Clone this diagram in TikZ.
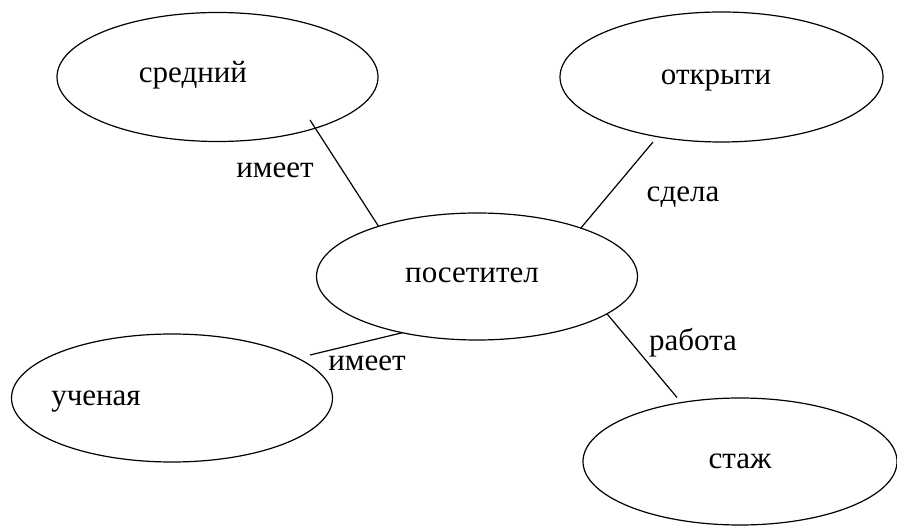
\documentclass[tikz,border=0pt]{standalone}
\usepackage{fontspec}
\setmainfont{Liberation Serif}
\usetikzlibrary{shapes.geometric,calc}
\begin{document}
\begin{tikzpicture}[x=1pt,y=-1pt,
  oval/.style={ellipse,draw,line width=1.2pt,minimum width=321pt,minimum height=129pt,inner sep=0pt,outer sep=0pt},
  txt/.style={anchor=base,inner sep=0pt,font=\fontsize{31}{36}\selectfont},
  lbl/.style={anchor=base,inner sep=0pt,font=\fontsize{31}{36}\selectfont},
  link/.style={line width=1.2pt}]
\useasboundingbox (0,0) rectangle (897,526);
\node[oval] (sred) at (217.5,77) {};
\node[oval,minimum width=323pt,minimum height=130pt] (otkr) at (721.5,77) {};
\node[oval,minimum height=127pt] (pos) at (477,276.5) {};
\node[oval,minimum height=128pt] (uch) at (172,398) {};
\node[oval,minimum width=314pt,minimum height=127pt] (stazh) at (740,461.5) {};
\node[txt] (tsred) at (193,83) {средний};
\node[txt] (totkr) at (716,85) {открыти};
\node[txt] (tpos) at (472,283) {посетител};
\node[txt] (tuch) at (96,406) {ученая};
\node[txt] (tstazh) at (740,468) {стаж};
\coordinate (e1) at ($(sred.center)+(92.5,43)$);
\coordinate (e2) at ($(otkr.center)+(-68.5,65)$);
\coordinate (e3) at ($(uch.center)+(138,-43)$);
\coordinate (e4) at ($(stazh.center)+(-63,-64)$);
\draw[link] (e1) -- (pos.153);
\draw[link] (e2) -- (pos.25);
\draw[link] (e3) -- (pos.217);
\draw[link] (pos.-16) -- (e4);
\node[lbl] (l1) at (275,178) {имеет};
\node[lbl] (l2) at (683,202) {сдела};
\node[lbl] (l3) at (367,371) {имеет};
\node[lbl] (l4) at (693,351) {работа};
\end{tikzpicture}
\end{document}
